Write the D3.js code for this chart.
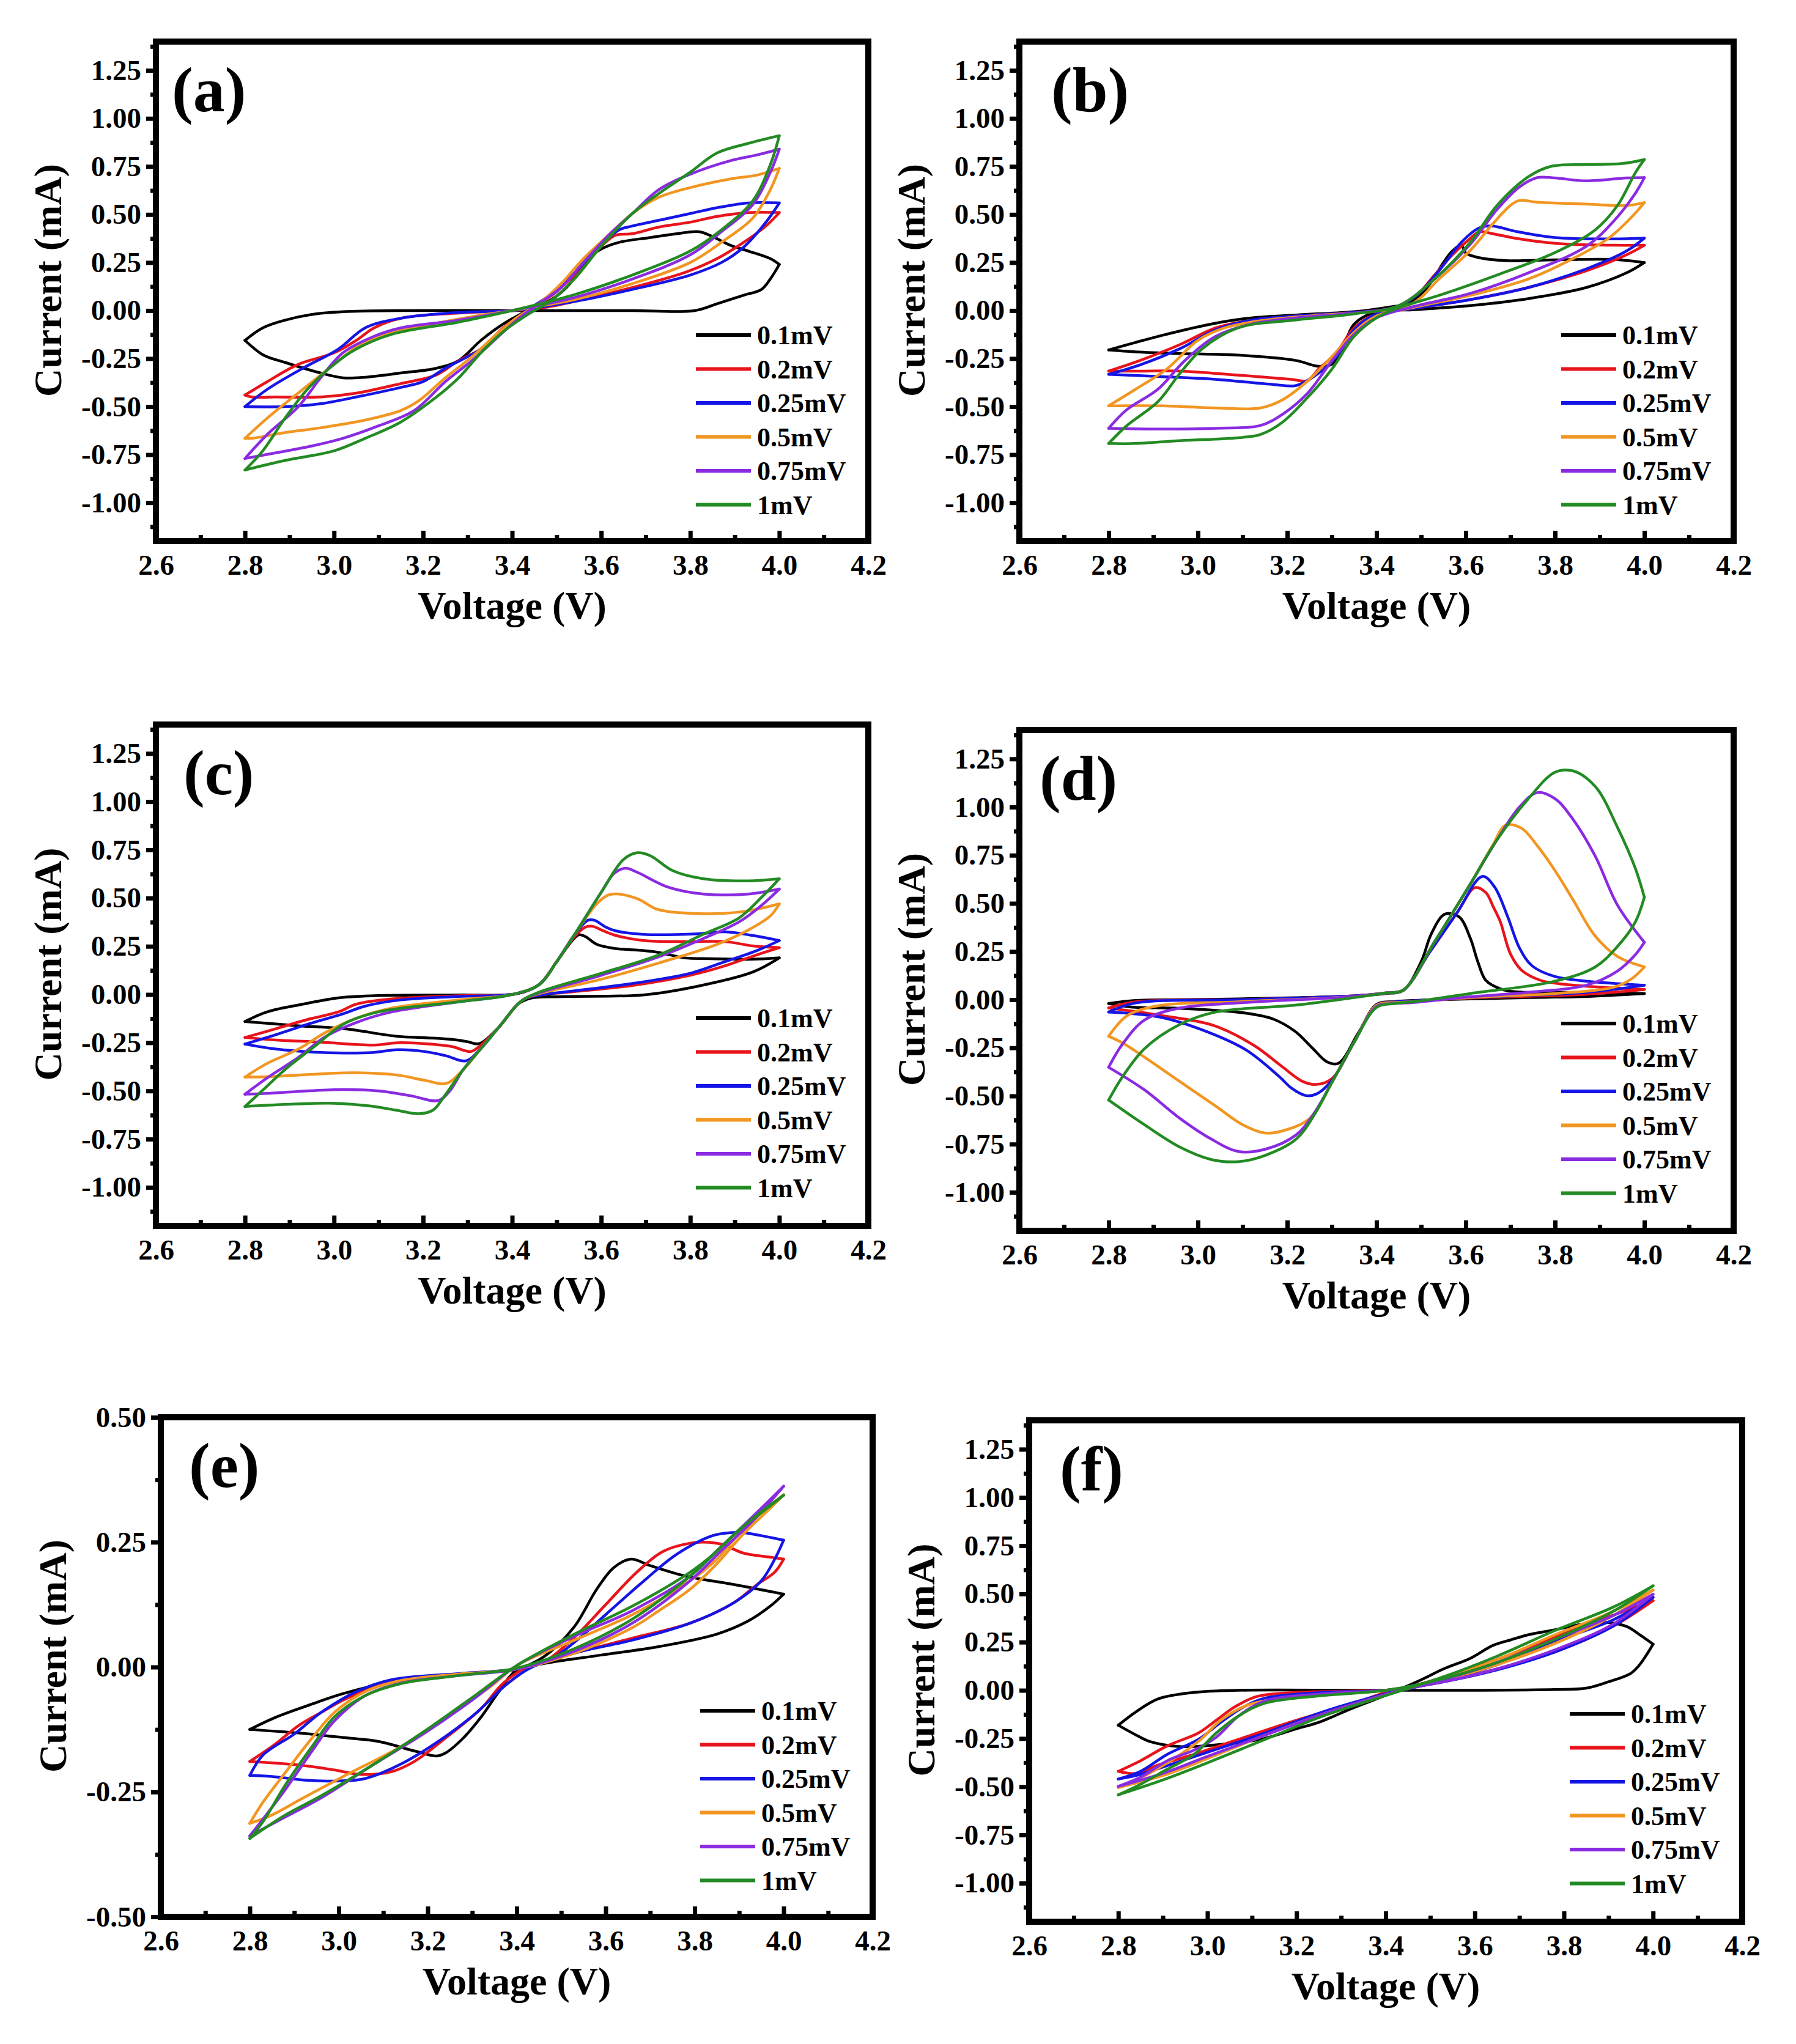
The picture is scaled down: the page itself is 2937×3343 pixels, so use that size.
<!DOCTYPE html>
<html>
<head>
<meta charset="utf-8">
<script src="https://cdn.jsdelivr.net/npm/d3@7"></script>
<style>
  body { margin: 0; background: #fff; }
  svg { display: block; }
  text { font-family: "Liberation Serif", "Times New Roman", serif; font-weight: bold; }
</style>
</head>
<body>
<div id="chart"></div>
<script>
// scan rates and colours (same in every panel)
var rates = ["0.1mV", "0.2mV", "0.25mV", "0.5mV", "0.75mV", "1mV"];
var colors = ["#000000", "#e8141c", "#1515e6", "#f29622", "#8a2be2", "#238b23"];

var xTicks = [2.6, 2.8, 3.0, 3.2, 3.4, 3.6, 3.8, 4.0, 4.2];
var yTicks = [-1.0, -0.75, -0.5, -0.25, 0, 0.25, 0.5, 0.75, 1.0, 1.25];
var yTicksE = [-0.5, -0.25, 0, 0.25, 0.5];

// CV loops: [voltage (V), current (mA)], going 2.8 -> 4.0 -> 2.8
var cvA = [
  [[2.8,-0.155],[2.84,-0.09],[2.89,-0.05],[2.96,-0.017],[3.02,-0.006],[3.15,0],[3.4,0],[3.54,0],[3.67,0],[3.81,0],[3.86,0.035],[3.92,0.08],[3.96,0.11],[3.98,0.165],[4.0,0.24],
   [3.98,0.27],[3.93,0.31],[3.89,0.34],[3.85,0.385],[3.82,0.41],[3.77,0.40],[3.71,0.38],[3.64,0.355],[3.60,0.32],[3.56,0.25],[3.53,0.14],[3.49,0.06],[3.43,-0.006],[3.38,-0.07],[3.33,-0.155],[3.28,-0.26],[3.23,-0.30],[3.15,-0.325],[3.07,-0.347],[3.02,-0.35],[2.97,-0.325],[2.89,-0.27],[2.84,-0.23],[2.8,-0.155]],
  [[2.8,-0.44],[2.85,-0.37],[2.92,-0.28],[3.0,-0.22],[3.05,-0.155],[3.09,-0.09],[3.15,-0.04],[3.28,-0.013],[3.4,0],[3.47,0.015],[3.54,0.047],[3.67,0.12],[3.79,0.2],[3.86,0.27],[3.92,0.355],[3.97,0.44],[4.0,0.51],
   [3.93,0.51],[3.86,0.49],[3.8,0.46],[3.73,0.435],[3.67,0.40],[3.63,0.39],[3.59,0.31],[3.54,0.185],[3.49,0.08],[3.43,-0.006],[3.38,-0.09],[3.33,-0.2],[3.28,-0.26],[3.23,-0.335],[3.15,-0.38],[3.05,-0.43],[2.97,-0.45],[2.87,-0.45],[2.815,-0.45],[2.8,-0.44]],
  [[2.8,-0.5],[2.85,-0.41],[2.93,-0.3],[3.01,-0.2],[3.07,-0.09],[3.15,-0.04],[3.28,-0.01],[3.4,0],[3.54,0.047],[3.67,0.11],[3.8,0.185],[3.87,0.25],[3.92,0.33],[3.97,0.46],[4.0,0.56],
   [3.93,0.56],[3.86,0.535],[3.8,0.505],[3.73,0.47],[3.67,0.44],[3.64,0.42],[3.59,0.32],[3.54,0.195],[3.49,0.09],[3.43,-0.006],[3.38,-0.1],[3.33,-0.2],[3.25,-0.3],[3.2,-0.37],[3.15,-0.4],[3.05,-0.45],[2.97,-0.485],[2.89,-0.5],[2.8,-0.5]],
  [[2.8,-0.665],[2.85,-0.56],[2.93,-0.41],[3.0,-0.28],[3.06,-0.175],[3.13,-0.11],[3.22,-0.07],[3.32,-0.028],[3.4,0],[3.54,0.057],[3.67,0.14],[3.8,0.25],[3.87,0.355],[3.94,0.48],[3.98,0.63],[4.0,0.74],
   [3.95,0.705],[3.89,0.685],[3.8,0.64],[3.73,0.59],[3.67,0.505],[3.62,0.4],[3.56,0.27],[3.51,0.14],[3.46,0.036],[3.41,-0.038],[3.36,-0.134],[3.31,-0.24],[3.25,-0.35],[3.19,-0.47],[3.15,-0.52],[3.07,-0.57],[2.97,-0.61],[2.89,-0.635],[2.815,-0.665],[2.8,-0.665]],
  [[2.8,-0.77],[2.85,-0.645],[2.92,-0.5],[2.97,-0.35],[3.02,-0.22],[3.09,-0.134],[3.15,-0.09],[3.28,-0.05],[3.4,0],[3.54,0.068],[3.67,0.164],[3.8,0.29],[3.87,0.41],[3.94,0.55],[3.98,0.72],[4.0,0.84],
   [3.95,0.81],[3.89,0.78],[3.8,0.71],[3.73,0.63],[3.67,0.505],[3.62,0.4],[3.56,0.25],[3.51,0.12],[3.46,0.036],[3.41,-0.05],[3.36,-0.155],[3.31,-0.26],[3.25,-0.37],[3.18,-0.52],[3.1,-0.6],[3.02,-0.665],[2.94,-0.71],[2.87,-0.74],[2.8,-0.77]],
  [[2.8,-0.83],[2.84,-0.73],[2.89,-0.56],[2.94,-0.41],[3.0,-0.28],[3.05,-0.2],[3.13,-0.123],[3.28,-0.06],[3.4,0],[3.54,0.083],[3.67,0.185],[3.8,0.31],[3.87,0.42],[3.94,0.57],[3.98,0.76],[4.0,0.91],
   [3.93,0.87],[3.86,0.82],[3.8,0.72],[3.73,0.61],[3.67,0.505],[3.6,0.335],[3.54,0.165],[3.49,0.057],[3.43,-0.028],[3.38,-0.11],[3.33,-0.22],[3.28,-0.35],[3.23,-0.45],[3.15,-0.58],[3.07,-0.665],[3.0,-0.73],[2.89,-0.78],[2.8,-0.83]]
];

var cvB = [
  [[2.8,-0.205],[2.86,-0.166],[2.93,-0.123],[3.03,-0.07],[3.12,-0.038],[3.22,-0.023],[3.35,-0.006],[3.42,0.015],[3.48,0.047],[3.52,0.14],[3.55,0.25],[3.57,0.31],[3.59,0.34],[3.6,0.30],[3.63,0.275],[3.69,0.26],[3.8,0.264],[3.93,0.266],[4.0,0.25],
   [3.96,0.196],[3.87,0.12],[3.74,0.062],[3.61,0.026],[3.48,0.004],[3.40,-0.006],[3.35,-0.07],[3.32,-0.22],[3.30,-0.28],[3.27,-0.29],[3.22,-0.26],[3.09,-0.232],[2.96,-0.224],[2.86,-0.215],[2.8,-0.205]],
  [[2.8,-0.315],[2.87,-0.26],[2.96,-0.177],[3.04,-0.09],[3.12,-0.05],[3.22,-0.028],[3.35,-0.01],[3.44,0.015],[3.49,0.08],[3.53,0.185],[3.57,0.29],[3.61,0.375],[3.63,0.41],[3.66,0.4],[3.71,0.377],[3.8,0.35],[3.93,0.34],[4.0,0.34],
   [3.96,0.29],[3.87,0.207],[3.74,0.12],[3.61,0.057],[3.48,0.01],[3.40,-0.017],[3.35,-0.09],[3.31,-0.22],[3.27,-0.305],[3.245,-0.365],[3.21,-0.358],[3.09,-0.336],[2.96,-0.315],[2.87,-0.315],[2.8,-0.315]],
  [[2.8,-0.332],[2.87,-0.283],[2.96,-0.198],[3.04,-0.1],[3.12,-0.05],[3.22,-0.028],[3.35,-0.01],[3.44,0.015],[3.49,0.08],[3.54,0.207],[3.59,0.355],[3.63,0.43],[3.66,0.44],[3.71,0.413],[3.8,0.38],[3.93,0.373],[4.0,0.377],
   [3.96,0.31],[3.87,0.217],[3.74,0.12],[3.61,0.057],[3.48,0.01],[3.40,-0.017],[3.35,-0.1],[3.31,-0.24],[3.27,-0.326],[3.22,-0.39],[3.17,-0.385],[3.04,-0.358],[2.91,-0.343],[2.8,-0.332]],
  [[2.8,-0.496],[2.86,-0.41],[2.93,-0.305],[3.0,-0.155],[3.06,-0.09],[3.15,-0.05],[3.28,-0.023],[3.39,-0.006],[3.48,0.036],[3.54,0.164],[3.61,0.313],[3.66,0.45],[3.7,0.547],[3.72,0.573],[3.76,0.564],[3.87,0.554],[3.96,0.547],[4.0,0.562],
   [3.97,0.483],[3.92,0.377],[3.84,0.27],[3.74,0.164],[3.61,0.079],[3.48,0.015],[3.40,-0.028],[3.35,-0.113],[3.30,-0.24],[3.245,-0.368],[3.19,-0.464],[3.14,-0.507],[3.04,-0.507],[2.92,-0.496],[2.8,-0.496]],
  [[2.8,-0.613],[2.84,-0.517],[2.91,-0.41],[2.97,-0.262],[3.04,-0.134],[3.12,-0.07],[3.22,-0.038],[3.35,-0.013],[3.45,0.026],[3.53,0.164],[3.61,0.345],[3.67,0.526],[3.72,0.643],[3.76,0.692],[3.8,0.69],[3.87,0.675],[3.96,0.69],[4.0,0.692],
   [3.98,0.611],[3.93,0.462],[3.87,0.334],[3.74,0.196],[3.61,0.089],[3.48,0.019],[3.40,-0.038],[3.35,-0.124],[3.30,-0.262],[3.245,-0.432],[3.19,-0.539],[3.14,-0.598],[3.04,-0.613],[2.91,-0.617],[2.8,-0.613]],
  [[2.8,-0.692],[2.84,-0.6],[2.91,-0.475],[2.96,-0.326],[3.01,-0.198],[3.09,-0.09],[3.22,-0.049],[3.35,-0.017],[3.45,0.026],[3.53,0.164],[3.61,0.355],[3.67,0.547],[3.74,0.696],[3.79,0.75],[3.87,0.76],[3.95,0.765],[4.0,0.786],
   [3.98,0.718],[3.94,0.547],[3.89,0.42],[3.8,0.302],[3.67,0.185],[3.54,0.079],[3.45,0.015],[3.40,-0.038],[3.35,-0.134],[3.30,-0.305],[3.245,-0.454],[3.19,-0.58],[3.14,-0.645],[3.09,-0.662],[2.96,-0.677],[2.86,-0.692],[2.8,-0.692]]
];

var cvC = [
  [[2.8,-0.14],[2.85,-0.09],[2.93,-0.05],[3.01,-0.017],[3.09,-0.006],[3.28,-0.002],[3.41,0.004],[3.461,0.052],[3.50,0.17],[3.535,0.28],[3.55,0.31],[3.565,0.30],[3.59,0.26],[3.633,0.238],[3.663,0.233],[3.725,0.22],[3.787,0.19],[3.847,0.186],[3.939,0.183],[4.0,0.19],
   [3.94,0.116],[3.817,0.043],[3.695,-0.002],[3.51,-0.011],[3.44,-0.02],[3.412,-0.052],[3.37,-0.17],[3.326,-0.255],[3.30,-0.245],[3.265,-0.233],[3.204,-0.224],[3.143,-0.217],[3.02,-0.177],[2.92,-0.162],[2.8,-0.14]],
  [[2.8,-0.223],[2.87,-0.177],[2.94,-0.13],[3.01,-0.09],[3.05,-0.05],[3.13,-0.023],[3.28,-0.006],[3.41,0.004],[3.461,0.052],[3.50,0.17],[3.54,0.3],[3.565,0.35],[3.58,0.354],[3.605,0.33],[3.633,0.306],[3.695,0.28],[3.787,0.274],[3.879,0.274],[3.94,0.252],[4.0,0.243],
   [3.95,0.206],[3.87,0.143],[3.8,0.1],[3.67,0.047],[3.54,0.015],[3.47,0.0],[3.43,-0.02],[3.412,-0.052],[3.37,-0.17],[3.326,-0.27],[3.307,-0.296],[3.265,-0.27],[3.204,-0.255],[3.143,-0.25],[3.09,-0.262],[2.97,-0.247],[2.87,-0.236],[2.8,-0.223]],
  [[2.8,-0.257],[2.87,-0.208],[2.94,-0.155],[3.02,-0.1],[3.07,-0.06],[3.15,-0.028],[3.28,-0.01],[3.41,0.004],[3.461,0.052],[3.50,0.17],[3.54,0.31],[3.57,0.385],[3.585,0.385],[3.61,0.35],[3.633,0.33],[3.695,0.312],[3.817,0.315],[3.879,0.325],[3.94,0.306],[4.0,0.28],
   [3.95,0.228],[3.87,0.164],[3.8,0.11],[3.67,0.057],[3.54,0.019],[3.47,0.0],[3.43,-0.02],[3.412,-0.052],[3.37,-0.17],[3.33,-0.28],[3.296,-0.344],[3.252,-0.318],[3.204,-0.296],[3.143,-0.286],[3.09,-0.3],[2.97,-0.3],[2.87,-0.283],[2.8,-0.257]],
  [[2.8,-0.428],[2.85,-0.357],[2.92,-0.283],[2.98,-0.198],[3.05,-0.123],[3.13,-0.07],[3.28,-0.028],[3.4,0],[3.461,0.052],[3.50,0.17],[3.54,0.31],[3.59,0.47],[3.615,0.515],[3.633,0.522],[3.682,0.496],[3.725,0.443],[3.787,0.423],[3.909,0.427],[4.0,0.47],
   [3.98,0.408],[3.93,0.334],[3.86,0.26],[3.73,0.164],[3.6,0.079],[3.47,0.01],[3.43,-0.02],[3.412,-0.052],[3.37,-0.17],[3.33,-0.28],[3.29,-0.39],[3.252,-0.461],[3.204,-0.445],[3.143,-0.418],[3.05,-0.406],[2.94,-0.415],[2.85,-0.426],[2.8,-0.428]],
  [[2.8,-0.517],[2.85,-0.432],[2.92,-0.326],[2.98,-0.219],[3.05,-0.145],[3.13,-0.09],[3.28,-0.038],[3.4,0],[3.461,0.052],[3.50,0.17],[3.54,0.31],[3.6,0.53],[3.63,0.63],[3.655,0.655],[3.68,0.635],[3.75,0.557],[3.83,0.521],[3.93,0.521],[4.0,0.547],
   [3.96,0.462],[3.91,0.377],[3.83,0.291],[3.73,0.196],[3.6,0.1],[3.47,0.015],[3.43,-0.02],[3.412,-0.052],[3.37,-0.17],[3.33,-0.28],[3.29,-0.39],[3.26,-0.5],[3.234,-0.55],[3.172,-0.525],[3.1,-0.5],[3.02,-0.493],[2.94,-0.5],[2.85,-0.513],[2.8,-0.517]],
  [[2.8,-0.581],[2.84,-0.496],[2.89,-0.389],[2.96,-0.262],[3.02,-0.155],[3.1,-0.09],[3.28,-0.038],[3.4,0],[3.461,0.052],[3.50,0.17],[3.54,0.31],[3.6,0.53],[3.65,0.7],[3.68,0.735],[3.71,0.72],[3.76,0.643],[3.83,0.6],[3.93,0.589],[4.0,0.6],
   [3.96,0.504],[3.91,0.398],[3.83,0.313],[3.73,0.206],[3.6,0.11],[3.47,0.02],[3.43,-0.02],[3.412,-0.052],[3.37,-0.17],[3.33,-0.28],[3.29,-0.39],[3.25,-0.52],[3.222,-0.6],[3.19,-0.618],[3.14,-0.6],[3.08,-0.578],[3.0,-0.564],[2.89,-0.57],[2.8,-0.581]]
];

var cvD = [
  [[2.8,-0.02],[2.86,-0.004],[2.96,0],[3.09,0.004],[3.22,0.01],[3.35,0.02],[3.42,0.032],[3.46,0.048],[3.50,0.197],[3.523,0.343],[3.553,0.444],[3.585,0.43],[3.61,0.32],[3.627,0.197],[3.645,0.10],[3.677,0.057],[3.71,0.041],[3.87,0.038],[4.0,0.032],
   [3.87,0.017],[3.74,0.011],[3.61,0.004],[3.48,-0.004],[3.44,-0.01],[3.40,-0.025],[3.36,-0.17],[3.315,-0.33],[3.29,-0.324],[3.255,-0.248],[3.218,-0.165],[3.168,-0.10],[3.107,-0.07],[2.96,-0.045],[2.85,-0.038],[2.8,-0.02]],
  [[2.8,-0.043],[2.86,-0.011],[3.09,0],[3.35,0.02],[3.42,0.035],[3.46,0.05],[3.52,0.25],[3.58,0.45],[3.621,0.582],[3.645,0.556],[3.662,0.48],[3.677,0.407],[3.70,0.238],[3.725,0.153],[3.768,0.10],[3.80,0.086],[3.87,0.07],[4.0,0.053],
   [3.87,0.028],[3.61,0.009],[3.48,-0.006],[3.44,-0.012],[3.40,-0.03],[3.35,-0.22],[3.30,-0.41],[3.265,-0.44],[3.235,-0.425],[3.186,-0.343],[3.126,-0.238],[3.034,-0.133],[2.912,-0.08],[2.8,-0.043]],
  [[2.8,-0.064],[2.86,-0.017],[3.09,0],[3.35,0.02],[3.42,0.035],[3.46,0.05],[3.52,0.25],[3.58,0.45],[3.637,0.64],[3.664,0.587],[3.694,0.43],[3.72,0.27],[3.749,0.175],[3.80,0.12],[3.87,0.096],[4.0,0.075],
   [3.87,0.038],[3.61,0.011],[3.48,-0.006],[3.44,-0.012],[3.40,-0.03],[3.35,-0.22],[3.30,-0.42],[3.265,-0.49],[3.242,-0.498],[3.21,-0.46],[3.181,-0.397],[3.107,-0.26],[3.004,-0.152],[2.912,-0.089],[2.8,-0.064]],
  [[2.8,-0.19],[2.84,-0.085],[2.91,-0.032],[3.09,-0.011],[3.35,0.017],[3.42,0.035],[3.46,0.05],[3.53,0.3],[3.61,0.6],[3.66,0.8],[3.689,0.905],[3.725,0.89],[3.76,0.80],[3.80,0.67],[3.84,0.52],[3.89,0.33],[3.94,0.224],[4.0,0.17],
   [3.97,0.106],[3.93,0.064],[3.8,0.032],[3.61,0.011],[3.48,-0.011],[3.44,-0.015],[3.40,-0.03],[3.35,-0.22],[3.30,-0.43],[3.25,-0.617],[3.19,-0.681],[3.15,-0.692],[3.1,-0.649],[3.04,-0.553],[2.96,-0.426],[2.88,-0.298],[2.83,-0.223],[2.8,-0.19]],
  [[2.8,-0.351],[2.83,-0.234],[2.88,-0.106],[2.96,-0.043],[3.09,-0.017],[3.35,0.017],[3.42,0.035],[3.46,0.05],[3.53,0.3],[3.61,0.6],[3.67,0.83],[3.72,1.0],[3.76,1.075],[3.8,1.043],[3.84,0.937],[3.89,0.745],[3.94,0.49],[4.0,0.298],
   [3.98,0.234],[3.94,0.149],[3.87,0.075],[3.74,0.038],[3.61,0.015],[3.48,-0.015],[3.44,-0.02],[3.40,-0.035],[3.35,-0.22],[3.30,-0.43],[3.26,-0.59],[3.22,-0.702],[3.15,-0.777],[3.09,-0.788],[3.03,-0.724],[2.96,-0.617],[2.88,-0.468],[2.8,-0.351]],
  [[2.8,-0.521],[2.83,-0.404],[2.88,-0.255],[2.96,-0.128],[3.04,-0.064],[3.22,-0.028],[3.35,0.011],[3.42,0.035],[3.46,0.05],[3.53,0.3],[3.61,0.6],[3.67,0.83],[3.74,1.043],[3.8,1.181],[3.84,1.188],[3.89,1.107],[3.94,0.894],[3.98,0.681],[4.0,0.532],
   [3.98,0.404],[3.94,0.277],[3.89,0.17],[3.8,0.096],[3.61,0.032],[3.48,-0.011],[3.44,-0.02],[3.40,-0.04],[3.35,-0.22],[3.30,-0.43],[3.26,-0.6],[3.22,-0.724],[3.15,-0.809],[3.09,-0.841],[3.03,-0.83],[2.96,-0.766],[2.88,-0.649],[2.8,-0.521]]
];

var cvE = [
  [[2.8,-0.125],[2.86,-0.1],[2.94,-0.074],[3.01,-0.053],[3.14,-0.027],[3.27,-0.014],[3.4,-0.004],[3.46,0.02],[3.528,0.079],[3.58,0.156],[3.618,0.199],[3.657,0.216],[3.7,0.203],[3.78,0.182],[3.89,0.165],[4.0,0.146],
   [3.97,0.122],[3.92,0.092],[3.85,0.066],[3.72,0.041],[3.59,0.024],[3.46,0.007],[3.4,-0.006],[3.36,-0.049],[3.32,-0.1],[3.28,-0.142],[3.24,-0.172],[3.22,-0.178],[3.17,-0.168],[3.09,-0.149],[3.01,-0.141],[2.91,-0.132],[2.8,-0.125]],
  [[2.8,-0.189],[2.85,-0.159],[2.91,-0.117],[2.96,-0.091],[3.01,-0.066],[3.08,-0.04],[3.14,-0.025],[3.27,-0.014],[3.4,-0.004],[3.46,0.01],[3.53,0.06],[3.6,0.125],[3.67,0.19],[3.73,0.232],[3.79,0.248],[3.82,0.25],[3.86,0.246],[3.91,0.228],[3.97,0.22],[4.0,0.216],
   [3.98,0.19],[3.94,0.165],[3.89,0.13],[3.79,0.088],[3.66,0.058],[3.53,0.028],[3.43,0.003],[3.37,-0.032],[3.32,-0.083],[3.24,-0.142],[3.17,-0.189],[3.12,-0.209],[3.05,-0.215],[2.99,-0.206],[2.91,-0.196],[2.8,-0.189]],
  [[2.8,-0.217],[2.83,-0.176],[2.9,-0.134],[2.96,-0.091],[3.04,-0.049],[3.12,-0.025],[3.27,-0.013],[3.4,-0.004],[3.47,0.012],[3.53,0.05],[3.6,0.105],[3.68,0.168],[3.76,0.226],[3.84,0.263],[3.88,0.269],[3.91,0.269],[3.95,0.263],[4.0,0.254],
   [3.98,0.216],[3.95,0.173],[3.89,0.13],[3.79,0.088],[3.66,0.054],[3.53,0.028],[3.43,-0.002],[3.37,-0.04],[3.31,-0.091],[3.22,-0.151],[3.14,-0.194],[3.06,-0.223],[3.0,-0.228],[2.92,-0.226],[2.85,-0.219],[2.8,-0.217]],
  [[2.8,-0.313],[2.83,-0.27],[2.88,-0.211],[2.94,-0.142],[2.99,-0.091],[3.06,-0.049],[3.14,-0.027],[3.27,-0.014],[3.4,-0.004],[3.53,0.028],[3.66,0.079],[3.72,0.113],[3.79,0.156],[3.85,0.207],[3.91,0.267],[3.97,0.318],[4.0,0.345],
   [3.95,0.309],[3.9,0.267],[3.85,0.216],[3.79,0.173],[3.66,0.105],[3.53,0.054],[3.4,0.003],[3.34,-0.04],[3.24,-0.1],[3.14,-0.159],[3.01,-0.219],[2.92,-0.262],[2.85,-0.296],[2.8,-0.313]],
  [[2.8,-0.338],[2.83,-0.304],[2.88,-0.245],[2.94,-0.168],[2.99,-0.108],[3.06,-0.057],[3.14,-0.032],[3.27,-0.017],[3.4,-0.004],[3.53,0.032],[3.66,0.088],[3.79,0.173],[3.86,0.233],[3.93,0.292],[4.0,0.362],
   [3.95,0.318],[3.9,0.275],[3.85,0.233],[3.79,0.182],[3.66,0.113],[3.53,0.062],[3.4,0.003],[3.3,-0.066],[3.19,-0.134],[3.08,-0.194],[2.96,-0.262],[2.88,-0.3],[2.8,-0.338]],
  [[2.8,-0.343],[2.83,-0.309],[2.88,-0.236],[2.94,-0.159],[2.99,-0.1],[3.06,-0.057],[3.14,-0.033],[3.27,-0.017],[3.4,-0.002],[3.53,0.037],[3.66,0.096],[3.79,0.182],[3.86,0.241],[3.93,0.297],[4.0,0.344],
   [3.95,0.309],[3.9,0.275],[3.84,0.224],[3.79,0.19],[3.66,0.122],[3.53,0.066],[3.4,0.003],[3.3,-0.061],[3.19,-0.13],[3.08,-0.194],[2.96,-0.258],[2.88,-0.296],[2.8,-0.343]]
];

var cvF = [
  [[2.8,-0.181],[2.84,-0.111],[2.89,-0.044],[2.97,-0.011],[3.07,0],[3.33,0],[3.59,0],[3.78,0.004],[3.85,0.011],[3.9,0.044],[3.95,0.088],[3.97,0.133],[4.0,0.239],
   [3.97,0.288],[3.94,0.332],[3.88,0.354],[3.84,0.343],[3.78,0.314],[3.72,0.288],[3.68,0.261],[3.64,0.232],[3.59,0.166],[3.53,0.111],[3.48,0.055],[3.43,0.004],[3.38,-0.044],[3.33,-0.088],[3.25,-0.166],[3.2,-0.199],[3.12,-0.254],[3.02,-0.283],[2.94,-0.292],[2.87,-0.265],[2.84,-0.232],[2.8,-0.181]],
  [[2.8,-0.42],[2.85,-0.365],[2.91,-0.288],[2.98,-0.221],[3.02,-0.155],[3.06,-0.088],[3.11,-0.033],[3.2,-0.011],[3.33,-0.004],[3.4,0],[3.52,0.04],[3.65,0.111],[3.78,0.199],[3.91,0.332],[4.0,0.465],
   [3.92,0.398],[3.84,0.332],[3.72,0.221],[3.59,0.111],[3.46,0.022],[3.4,-0.011],[3.33,-0.066],[3.2,-0.155],[3.07,-0.254],[2.97,-0.332],[2.89,-0.387],[2.84,-0.431],[2.8,-0.42]],
  [[2.8,-0.46],[2.85,-0.42],[2.91,-0.332],[2.98,-0.254],[3.03,-0.166],[3.08,-0.088],[3.13,-0.04],[3.26,-0.011],[3.4,0],[3.52,0.04],[3.65,0.106],[3.78,0.199],[3.91,0.332],[4.0,0.482],
   [3.91,0.365],[3.78,0.254],[3.65,0.133],[3.52,0.044],[3.4,-0.018],[3.26,-0.111],[3.13,-0.221],[3.0,-0.321],[2.9,-0.398],[2.84,-0.442],[2.8,-0.46]],
  [[2.8,-0.504],[2.85,-0.454],[2.91,-0.376],[2.98,-0.265],[3.03,-0.155],[3.09,-0.077],[3.2,-0.033],[3.4,0],[3.52,0.049],[3.65,0.133],[3.78,0.243],[3.91,0.387],[4.0,0.52],
   [3.91,0.409],[3.78,0.288],[3.65,0.159],[3.52,0.055],[3.4,-0.022],[3.26,-0.122],[3.13,-0.232],[3.0,-0.354],[2.9,-0.442],[2.8,-0.504]],
  [[2.8,-0.498],[2.85,-0.45],[2.91,-0.365],[2.97,-0.31],[3.02,-0.243],[3.07,-0.133],[3.13,-0.055],[3.26,-0.018],[3.4,0],[3.52,0.04],[3.65,0.111],[3.78,0.21],[3.91,0.343],[4.0,0.498],
   [3.91,0.387],[3.78,0.265],[3.65,0.144],[3.52,0.049],[3.4,-0.022],[3.26,-0.122],[3.13,-0.232],[3.0,-0.343],[2.9,-0.431],[2.8,-0.498]],
  [[2.8,-0.542],[2.85,-0.487],[2.91,-0.409],[2.97,-0.332],[3.02,-0.221],[3.07,-0.133],[3.13,-0.066],[3.26,-0.027],[3.4,0],[3.52,0.055],[3.65,0.144],[3.78,0.265],[3.91,0.409],[4.0,0.542],
   [3.91,0.431],[3.78,0.31],[3.65,0.177],[3.52,0.062],[3.4,-0.027],[3.26,-0.133],[3.13,-0.254],[3.0,-0.376],[2.9,-0.465],[2.8,-0.542]]
];

// where each panel's frame sits on the page
var panels = [
  {label: "(a)", loops: cvA, L: 255,  R: 1420, T: 68,   B: 885,  lx: 26, ticks: yTicks,  dom: [-1.2, 1.4]},
  {label: "(b)", loops: cvB, L: 1667, R: 2835, T: 68,   B: 885,  lx: 52, ticks: yTicks,  dom: [-1.2, 1.4]},
  {label: "(c)", loops: cvC, L: 255,  R: 1420, T: 1185, B: 2005, lx: 45, ticks: yTicks,  dom: [-1.2, 1.4]},
  {label: "(d)", loops: cvD, L: 1667, R: 2835, T: 1194, B: 2013, lx: 33, ticks: yTicks,  dom: [-1.2, 1.4]},
  {label: "(e)", loops: cvE, L: 263,  R: 1427, T: 2318, B: 3135, lx: 46, ticks: yTicksE, dom: [-0.5, 0.5]},
  {label: "(f)", loops: cvF, L: 1683, R: 2849, T: 2323, B: 3143, lx: 50, ticks: yTicks,  dom: [-1.2, 1.4]}
];

var W = 2937, H = 3343;
var svg = d3.select("#chart").append("svg")
    .attr("width", W)
    .attr("height", H);
svg.append("rect").attr("width", W).attr("height", H).attr("fill", "#fff");

panels.forEach(function (p) {
    var g = svg.append("g");

    var x = d3.scaleLinear().domain([2.6, 4.2]).range([p.L, p.R]);
    var y = d3.scaleLinear().domain(p.dom).range([p.B, p.T]);

    // minor ticks half way between the major ones
    var xMinor = d3.range(2.7, 4.2, 0.2);
    var step = p.ticks[1] - p.ticks[0];
    var yMinor = d3.range(p.ticks[0] - step / 2, p.dom[1] + 1e-9, step)
        .filter(v => v >= p.dom[0] - 1e-9);

    // x axis, ticks pointing inward
    var xAxis = g.append("g")
        .attr("transform", "translate(0," + p.B + ")")
        .call(d3.axisBottom(x).tickValues(xTicks).tickSize(-17).tickSizeOuter(0)
            .tickPadding(22).tickFormat(d => d.toFixed(1)));
    var xMin = g.append("g")
        .attr("transform", "translate(0," + p.B + ")")
        .call(d3.axisBottom(x).tickValues(xMinor).tickSize(-10).tickSizeOuter(0).tickFormat(""));

    // y axis, ticks pointing outward
    var yAxis = g.append("g")
        .attr("transform", "translate(" + p.L + ",0)")
        .call(d3.axisLeft(y).tickValues(p.ticks).tickSize(16).tickSizeOuter(0)
            .tickPadding(8).tickFormat(d => d.toFixed(2)));
    var yMin = g.append("g")
        .attr("transform", "translate(" + p.L + ",0)")
        .call(d3.axisLeft(y).tickValues(yMinor).tickSize(9).tickSizeOuter(0).tickFormat(""));

    [xAxis, xMin, yAxis, yMin].forEach(function (a) {
        a.select(".domain").remove();
        a.selectAll("line").attr("stroke", "#000").attr("stroke-width", 7);
    });
    [xAxis, yAxis].forEach(function (a) {
        a.selectAll("text").style("font-size", "47px").attr("fill", "#000")
            .style("font-family", "'Liberation Serif', serif").style("font-weight", "bold");
    });

    // CV loops, split at the 4.0 V vertex so both turning points stay sharp
    var line = d3.line()
        .x(d => x(d[0]))
        .y(d => y(d[1]))
        .curve(d3.curveCatmullRom.alpha(0.5));

    p.loops.forEach(function (pts, i) {
        var k = d3.maxIndex(pts, d => d[0]);
        [pts.slice(0, k + 1), pts.slice(k)].forEach(function (part) {
            g.append("path")
                .attr("d", line(part))
                .attr("fill", "none")
                .attr("stroke", colors[i])
                .attr("stroke-width", 4.5)
                .attr("stroke-linejoin", "round")
                .attr("stroke-linecap", "round");
        });
    });

    // frame
    g.append("rect")
        .attr("x", p.L).attr("y", p.T)
        .attr("width", p.R - p.L).attr("height", p.B - p.T)
        .attr("fill", "none")
        .attr("stroke", "#000")
        .attr("stroke-width", 10);

    // panel letter
    g.append("text")
        .attr("x", p.L + p.lx)
        .attr("y", p.T + 114)
        .style("font-size", "104px")
        .text(p.label);

    // legend
    var legend = g.selectAll(".legend")
        .data(rates)
        .enter()
        .append("g")
        .attr("transform", (d, i) => "translate(" + (p.R - 282) + "," + (p.T + 480 + i * 55.5) + ")");
    legend.append("line")
        .attr("x1", 0).attr("x2", 90)
        .attr("stroke", (d, i) => colors[i])
        .attr("stroke-width", 6);
    legend.append("text")
        .attr("x", 100)
        .attr("dy", "0.35em")
        .style("font-size", "44px")
        .text(d => d);

    // axis titles
    g.append("text")
        .attr("x", (p.L + p.R) / 2)
        .attr("y", p.B + 127)
        .attr("text-anchor", "middle")
        .style("font-size", "64px")
        .text("Voltage (V)");
    g.append("text")
        .attr("transform", "translate(" + (p.L - 155) + "," + ((p.T + p.B) / 2 - 18) + ") rotate(-90)")
        .attr("text-anchor", "middle")
        .style("font-size", "64px")
        .text("Current (mA)");
});
</script>
</body>
</html>
